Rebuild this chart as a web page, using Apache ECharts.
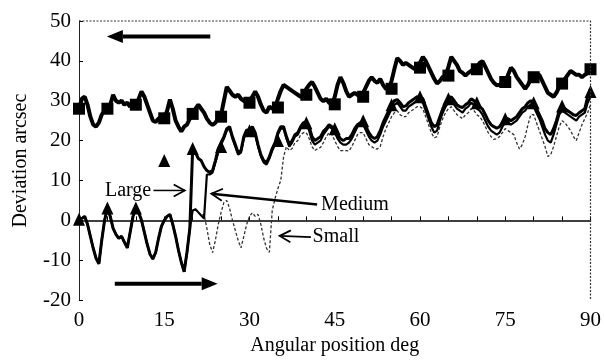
<!DOCTYPE html>
<html>
<head>
<meta charset="utf-8">
<script src="https://cdn.jsdelivr.net/npm/echarts@6/dist/echarts.min.js"></script>
<style>
html,body{margin:0;padding:0;background:#fff;}
#chart{width:604px;height:361px;}
</style>
</head>
<body>
<div id="chart"></div>
<script>
// ---- Data ----
const angles = [
 0,0.5,1,1.5,2,2.5,3,3.5,4,4.5,
 5,5.5,6,6.5,7,7.5,8,8.5,9,9.5,
 10,10.5,11,11.5,12,12.5,13,13.5,14,14.5,
 15,15.5,16,16.5,17,17.5,18,18.5,19,19.5,
 20,20.5,21,21.5,22,22.5,23,23.5,24,24.5,
 25,25.5,26,26.5,27,27.5,28,28.5,29,29.5,
 30,30.5,31,31.5,32,32.5,33,33.5,34,34.5,
 35,35.5,36,36.5,37,37.5,38,38.5,39,39.5,
 40,40.5,41,41.5,42,42.5,43,43.5,44,44.5,
 45,45.5,46,46.5,47,47.5,48,48.5,49,49.5,
 50,50.5,51,51.5,52,52.5,53,53.5,54,54.5,
 55,55.5,56,56.5,57,57.5,58,58.5,59,59.5,
 60,60.5,61,61.5,62,62.5,63,63.5,64,64.5,
 65,65.5,66,66.5,67,67.5,68,68.5,69,69.5,
 70,70.5,71,71.5,72,72.5,73,73.5,74,74.5,
 75,75.5,76,76.5,77,77.5,78,78.5,79,79.5,
 80,80.5,81,81.5,82,82.5,83,83.5,84,84.5,
 85,85.5,86,86.5,87,87.5,88,88.5,89,89.5,
 90
];

// reverse rotation (upper trace)
const reverseDev = [
 28,30.5,31,29,26,24,23.5,24.5,26.5,27.5,
 28,29,31.5,30,29.5,30,29,29.5,28.5,30,
 29,30.5,32.3,31,29,27,25,24.7,25.5,26,
 25.6,27.5,30.3,28,25,23.5,22.3,23.5,24,25.5,
 26.7,28,29,28,27,25.5,24.5,23.9,24.5,25.5,
 26.5,30,33.5,32.5,31.5,31,31.5,30.5,30,29.5,
 30,31,32.3,31,29,27.5,27,28.5,28,28.3,
 30.5,32.5,34,33.5,33,32.5,32,31.5,31,31.5,
 33,34,34.7,33.5,32,30.5,29.9,30.5,29.5,29.1,
 31,34,35.9,34.5,32.5,31,31.5,32,31.5,31,
 32,33.5,35,35.9,35,34.5,35.5,34,33,33,
 35,38,40.7,40,39,39.5,39,38.5,38,38.3,
 39.5,41,40,38.5,37,35.5,34.3,35,36,36.3,
 38.5,41,40,39,37.5,37,36.3,37,37.5,37.9,
 38.5,39.5,39.9,38.5,37,35.5,34.5,33.9,34,34.5,
 34.7,36.5,38.3,37.5,36,35,34,33,34,35.5,
 35.9,36.5,36.5,35,33.5,32,31.5,31,32,33.5,
 34.3,35.5,36.5,37.5,37,36.5,36.5,35.9,36.5,37,
 37.9
];

const largeDev = [
 0,0.5,1,-1,-4,-7,-9.5,-10.9,-5,0,
 3.1,1,-2,-3.5,-4.5,-4,-5.5,-6.9,-3,1,
 3.1,2,0,-3,-6,-8.5,-9.7,-8,-4.5,-1.5,
 0,1,1.5,-1,-4,-7.5,-10.5,-12.9,-8,-2,
 18,17,15.5,15,13.5,12.5,12,12.5,15,18,
 19.5,21,23,23.5,21,19,17,17.5,21,22.7,
 22.5,23.5,22,19,16.5,15,14.5,16,18,19.5,
 22,23.5,23.5,21,19,20,21.5,22,23.5,24.5,
 24.7,23.5,21,20,20.5,21,22.3,23,24,23.5,
 23,21.5,20.5,20,20.5,20.5,21.5,23,24,24.5,
 25,23.5,22,21,20.5,21,22.5,24.5,26,27.5,
 29,30,30.3,29.5,28.5,28.7,29.5,30,30.5,31,
 31,30.5,28.5,26.5,24.5,23.5,24,26,28,29.5,
 30.5,31,30,29,28.5,28.3,29,29.5,30.5,30,
 29,28.5,27.9,26.5,25,24,23.5,23.1,23.5,24.5,
 25.5,25.5,25,25.5,26,27,28,28.5,29.5,30,
 29.5,28,26.5,25,23,22,21.5,23,25,27.5,
 28.7,28,27.5,27,26.5,26.3,27,27.5,28,31,
 33
];

const mediumDev = [
 0,0.5,1,-1,-4,-7,-9.5,-10.9,-5,0,
 3.1,1,-2,-3.5,-4.5,-4,-5.5,-6.9,-3,1,
 3.1,2,0,-3,-6,-8.5,-9.7,-8,-4.5,-1.5,
 0,1,1.5,-1,-4,-7.5,-10.5,-12.9,-8,-2,
 2.5,2.8,2,1.2,0.5,11.5,11.5,12,14.5,17,
 19,20.5,22.5,23,20.5,18.5,16.5,17,20.5,22,
 22,23,21.5,18.5,16,14.5,14,15.5,17.5,19,
 21.5,23,23,20.5,18.5,19.5,21,21.5,23,24,
 24,22.5,20,19,19.5,20,21.5,22.5,23.5,23,
 22,20.5,19.5,19,19,19.5,20.5,22,23.5,24,
 24,22.5,21,20,19.5,20,21.5,23.5,25,26.5,
 28,29,29.5,28.5,27.5,27.5,28.5,29,29.5,30,
 30,29.5,27.5,25.5,23.5,22,22.5,25,27,28.5,
 29.5,30,29,28,27.5,27,28,28.5,29.5,29,
 28,27.5,26.5,25,23.5,22.5,22,21.5,22,23.5,
 24.5,24.5,24,24.5,25,26,27,27.5,28.5,29,
 28.5,27,25.5,23.5,21.5,20,19.5,21.5,24,26.5,
 27.5,27,26.5,26,25.5,25,26,26.5,27,29.5,
 31
];

const smallDev = [
 0,0.5,1,-1,-4,-7,-9.5,-10.9,-5,0,
 3.1,1,-2,-3.5,-4.5,-4,-5.5,-6.9,-3,1,
 3.1,2,0,-3,-6,-8.5,-9.7,-8,-4.5,-1.5,
 0,1,1.5,-1,-4,-7.5,-10.5,-12.9,-8,-2,
 2.5,2.8,2,1.2,1.5,-2,-6,-8.1,-5,-1,
 2,4.5,5,3,0,-2.5,-5,-6.9,-4,-1,
 1,1.9,1,1.5,-1,-4.5,-7,-8,2.5,5.5,
 8,10,16,18.5,17.5,18,19.5,20,21.5,22,
 22,20.5,18.5,17.5,18,18.3,19.5,21,22,21.5,
 20,18.5,17.5,17.5,17.5,17.4,18.5,20,21.5,22,
 22,20.5,19,18.5,18,17.9,18.5,21,23,24.5,
 26,27,27.5,26.5,26,26,27,27.5,28,28.5,
 28.5,28,26,24,22,20.7,21,23.5,25.5,27,
 28,28.5,27.5,26.5,26,25.5,26.5,27,28,27.5,
 26.5,26,25,23.5,22,21,20.3,20.5,21,22,
 23,22.5,22,21.5,19.5,17.9,19,21,24,26.5,
 26.5,24.5,22.5,20.5,18.5,16,16.5,18.5,21,23.5,
 25,24.5,23.5,22.5,21,20,22,24,25.5,27,
 29
];

// marker positions
const markAngles = [0,5,10,15,20,25,30,35,40,45,50,55,60,65,70,75,80,85,90];
const squareVals = [28,28,29,25.6,26.7,26,29.5,28.3,31.5,29.1,31,33,38.3,36.3,37.9,34.7,35.9,34.3,37.9];
const triangleVals = [0.3,3.1,3.1,15,18,18.5,22.5,20,24.5,23,25,29,31,30.5,29.5,25.5,29.5,28.7,32.3];

const xTicks = [0,15,30,45,60,75,90];
const yTicks = [-20,-10,0,10,20,30,40,50];

// ---- Chart ----
const FONT = '"Liberation Serif", "Times New Roman", serif';
function pairs(xs, ys){ return xs.map((x,i)=>[x, ys[i]]); }

const chart = echarts.init(document.getElementById('chart'), null, {renderer:'canvas'});

const option = {
  animation: false,
  backgroundColor: '#fff',
  grid: {left: 79, right: 12, top: 21, bottom: 48},
  xAxis: {
    type: 'value', min: xTicks[0], max: xTicks[xTicks.length-1], interval: 15,
    name: 'Angular position deg', nameLocation: 'middle', nameGap: 30,
    nameTextStyle: {fontFamily: FONT, fontSize: 20, color: '#000'},
    axisLine: {lineStyle: {color: '#000', width: 1.5}},
    axisTick: {inside: true, length: 4, lineStyle: {color: '#000'}},
    minorTick: {show: true, splitNumber: 3, length: 4, lineStyle: {color: '#000'}},
    splitLine: {show: false},
    axisLabel: {fontFamily: FONT, fontSize: 21, color: '#000', margin: 10}
  },
  yAxis: {
    type: 'value', min: yTicks[0], max: yTicks[yTicks.length-1], interval: 10,
    name: 'Deviation arcsec', nameLocation: 'middle', nameGap: 48,
    nameTextStyle: {fontFamily: FONT, fontSize: 20, color: '#000'},
    axisLine: {show: true, lineStyle: {color: '#222', width: 1}},
    axisTick: {show: true, inside: true, length: 4, lineStyle: {color: '#000'}},
    splitLine: {show: false},
    axisLabel: {fontFamily: FONT, fontSize: 21, color: '#000', margin: 8}
  },
  series: [
    {name: 'Reverse', type: 'line', data: pairs(angles, reverseDev), symbol: 'none',
     lineStyle: {color: '#000', width: 4}, z: 3},
    {name: 'Small', type: 'line', data: pairs(angles, smallDev), symbol: 'none',
     lineStyle: {color: '#333', width: 1.3, type: [3,2]}, z: 2},
    {name: 'Medium', type: 'line', data: pairs(angles, mediumDev), symbol: 'none',
     lineStyle: {color: '#000', width: 2.2}, z: 3},
    {name: 'Large', type: 'line', data: pairs(angles, largeDev), symbol: 'none',
     lineStyle: {color: '#000', width: 3}, z: 4},
    {name: 'Squares', type: 'scatter', data: pairs(markAngles, squareVals), symbol: 'rect',
     symbolSize: 12, itemStyle: {color: '#000', opacity: 1}, z: 5},
    {name: 'Triangles', type: 'scatter', data: pairs(markAngles, triangleVals), symbol: 'triangle',
     symbolSize: [12, 13], itemStyle: {color: '#000', opacity: 1}, z: 5}
  ]
};
chart.setOption(option);

// ---- Annotations (data coordinates) ----
const annotations = {
  topArrow:    {from: [23.1, 46.1], to: [4.9, 46.1]},
  bottomArrow: {from: [6.3, -15.9], to: [24.4, -15.9]},
  large:  {text: 'Large',  at: [12.7, 7.5], align: 'right', from: [13.1, 7.5], to: [18.6, 7.5]},
  medium: {text: 'Medium', at: [42.6, 3.9], align: 'left', from: [41.9, 4.0], to: [23.3, 6.7]},
  small:  {text: 'Small',  at: [41.1, -4.2], align: 'left', from: [40.8, -4.2], to: [35.3, -3.9]}
};

function px(p){ return chart.convertToPixel({xAxisIndex: 0, yAxisIndex: 0}, p); }

function filledArrow(a, b){
  const A = px(a), B = px(b);
  const dx = B[0]-A[0], dy = B[1]-A[1], L = Math.hypot(dx,dy);
  const ux = dx/L, uy = dy/L, nx = -uy, ny = ux;
  const hl = 16, hw = 6.5;
  const base = [B[0]-ux*hl, B[1]-uy*hl];
  return [
    {type: 'line', shape: {x1: A[0], y1: A[1], x2: base[0], y2: base[1]},
     style: {stroke: '#000', lineWidth: 4}, z: 100},
    {type: 'polygon', shape: {points: [[B[0],B[1]], [base[0]+nx*hw, base[1]+ny*hw], [base[0]-nx*hw, base[1]-ny*hw]]},
     style: {fill: '#000'}, z: 100}
  ];
}
function openArrow(a, b, w){
  const A = px(a), B = px(b);
  const dx = B[0]-A[0], dy = B[1]-A[1], L = Math.hypot(dx,dy);
  const ux = dx/L, uy = dy/L, nx = -uy, ny = ux;
  const hl = 11, hw = 6;
  return [
    {type: 'line', shape: {x1: A[0], y1: A[1], x2: B[0], y2: B[1]},
     style: {stroke: '#000', lineWidth: w}, z: 100},
    {type: 'polyline', shape: {points: [[B[0]-ux*hl+nx*hw, B[1]-uy*hl+ny*hw], [B[0],B[1]], [B[0]-ux*hl-nx*hw, B[1]-uy*hl-ny*hw]]},
     style: {stroke: '#000', lineWidth: 1.8, fill: null}, z: 100}
  ];
}
function label(t){
  const P = px(t.at);
  return {type: 'text', x: P[0], y: P[1], z: 100,
    style: {text: t.text, font: '20px ' + FONT, fill: '#000', align: t.align, verticalAlign: 'middle'}};
}
// dotted top and right frame of the plot box
function frame(){
  const TL = px([xTicks[0], yTicks[yTicks.length-1]]);
  const TR = px([xTicks[xTicks.length-1], yTicks[yTicks.length-1]]);
  const BR = px([xTicks[xTicks.length-1], yTicks[0]]);
  return [{type: 'polyline', z: 50, silent: true,
    shape: {points: [TL, TR, BR]},
    style: {stroke: '#333', lineWidth: 1.2, lineDash: [2, 1.5], fill: null}}];
}

const elements = [].concat(
  frame(),
  filledArrow(annotations.topArrow.from, annotations.topArrow.to),
  filledArrow(annotations.bottomArrow.from, annotations.bottomArrow.to),
  openArrow(annotations.large.from, annotations.large.to, 1.5),
  openArrow(annotations.medium.from, annotations.medium.to, 2.5),
  openArrow(annotations.small.from, annotations.small.to, 1.8),
  [label(annotations.large), label(annotations.medium), label(annotations.small)]
);
chart.setOption({graphic: {elements: elements}});
</script>
</body>
</html>
